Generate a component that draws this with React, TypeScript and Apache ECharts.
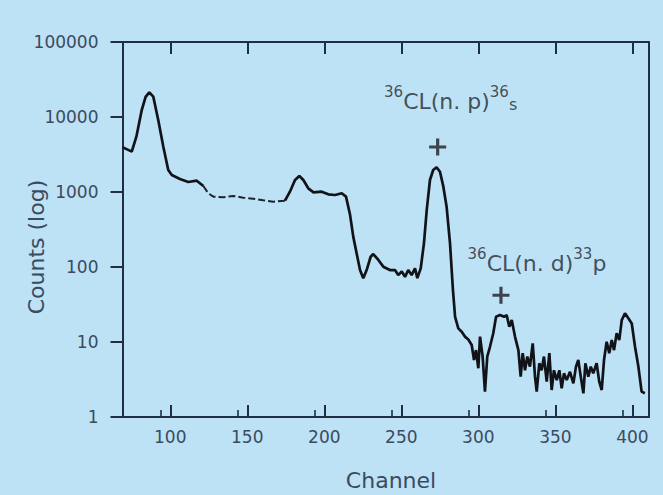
import React, { useEffect, useRef } from "react";
import * as echarts from "echarts";

// Pulse-height spectrum: channel number vs counts (log scale)
const channels = [
  69, 72, 75, 78, 81.5, 84, 86.4, 89, 92.2, 95.5, 98.7, 101, 106.3, 111.7, 117.2,
  121.5, 124.7, 128, 134.4, 140.9, 147.4, 153.9, 160.4, 166.9, 174.5,
  177.7, 181, 183.8, 186.4, 189.6, 193, 198.3, 202.6, 207, 211.3, 214.1,
  216.7, 218.8, 221, 223.2, 225.3, 227.5, 230.1, 231.8, 235.1, 238.3, 242.6,
  245.9, 248, 250.3, 252.4, 254.5, 256.7, 258.9, 260.4, 262.6, 264.7, 266.5,
  268.6, 270.7, 272.9, 275.1, 277.3, 279.4, 281.6, 283.5, 284.9, 287, 289.2,
  291.3, 293.5, 295.7, 297.2, 298.5, 300, 301.1, 302.8, 304.3, 305.8, 307.6,
  309.7, 311.5, 314.1, 316.7, 318.4, 320.1, 321.7, 323.8, 326, 327.5, 328.8,
  330.3, 331.8, 333.5, 335.3, 336.8, 337.9, 339.6, 341.1, 342.6, 344.4, 346.1,
  347.6, 349.1, 350.9, 352.6, 354.1, 355.6, 357.4, 359.5, 361.7, 363.4, 364.9,
  366.5, 368.2, 369.5, 371.4, 373, 374.6, 376.8, 378.5, 380.1, 381.6, 383.3,
  385, 386.6, 388.1, 389.8, 391.5, 393.1, 395.2, 397.4, 399.6, 401.7, 403.9,
  406, 408.1,
];

const counts = [
  3950, 3700, 3450, 5460, 12400, 18500, 21350, 18650, 9120, 4020, 1965, 1685, 1490, 1360, 1415,
  1200, 960, 867, 850, 885, 840, 815, 775, 743, 766,
  1010, 1445, 1635, 1445, 1120, 990, 1010, 930, 912, 962, 867,
  500, 254, 152, 91, 71, 91, 137, 149, 124, 101, 91,
  91, 78, 87, 74, 91, 78, 96, 71, 96, 207, 575,
  1445, 1965, 2135, 1865, 1178, 637, 210, 50, 21.7, 15.2, 13.7,
  11.8, 10.8, 9.1, 5.75, 7.8, 4.46, 11.8, 6.4, 2.18, 6.4, 8.7,
  13.1, 21.7, 22.9, 21.7, 22.9, 16, 19.6, 11.8, 7.8, 3.45, 7.1,
  4.2, 6.4, 4.7, 9.6, 3.45, 2.18, 5.2, 4.2, 6.4, 2.96, 7.1,
  2.29, 4.2, 3.11, 4.2, 2.41, 3.82, 3.11, 4.0, 2.81, 4.7, 5.75,
  3.45, 2.07, 5.2, 3.45, 4.7, 3.82, 5.2, 2.96, 2.29, 5.75, 10.1,
  7.1, 10.6, 7.8, 13.1, 10.6, 19.6, 24.1, 20.7, 17.7, 8.7, 4.7,
  2.18, 2.07,
];

// faintly printed stretch of the spectrum (drawn broken)
const faintFrom = 121.5;
const faintTo = 174.5;

// reaction peaks
const peakChannels = [273.6, 314.7];
const peakMarks = [3980, 42];
const peakLabels = [
  "{sup|36}{m|CL(n. p)}{sup|36}{sub|s}",
  "{sup|36}{m|CL(n. d)}{sup|33}{m|p}",
];
const peakLabelOffsets = [
  [13, -14],
  [36, 0],
];

const xTicks = [100, 150, 200, 250, 300, 350, 400];
const xMin = 69;
const xMax = 410.8;

const ink = "#1f2e45";
const textInk = "#3a4b5e";
const noteInk = "#23272f";
const FONT = "DejaVu Sans";

export default function App() {
  const ref = useRef<HTMLDivElement>(null);

  useEffect(() => {
    if (!ref.current) return;
    const chart = echarts.init(ref.current, null, { renderer: "svg" });

    const pairs = channels.map((c, i) => [c, counts[i]]);
    const solid = pairs.map((p) =>
      p[0] > faintFrom && p[0] < faintTo ? [p[0], "-"] : p
    );
    const faint = pairs.filter((p) => p[0] >= faintFrom && p[0] <= faintTo);

    const plus =
      "path://M6.5,0h3v6.5h6.5v3h-6.5v6.5h-3v-6.5h-6.5v-3h6.5z";

    chart.setOption({
      animation: false,
      backgroundColor: "#bde1f5",
      grid: { left: 122.5, right: 14, top: 42, bottom: 78 },
      xAxis: [
        {
          type: "value",
          min: xMin,
          max: xMax,
          interval: 50,
          position: "bottom",
          axisLine: { show: true, onZero: false, lineStyle: { color: ink, width: 2 } },
          axisTick: {
            show: true,
            inside: true,
            length: 12,
            customValues: xTicks,
            lineStyle: { color: ink, width: 2 },
          },
          minorTick: { show: true, splitNumber: 2, length: 7, lineStyle: { color: ink, width: 1.6 } },
          axisLabel: {
            customValues: xTicks,
            margin: 11,
            fontFamily: FONT,
            fontSize: 17,
            color: textInk,
          },
          splitLine: { show: false },
        },
        {
          type: "value",
          min: xMin,
          max: xMax,
          position: "top",
          axisLine: { show: true, onZero: false, lineStyle: { color: ink, width: 2 } },
          axisTick: {
            show: true,
            inside: true,
            length: 12,
            customValues: xTicks,
            lineStyle: { color: ink, width: 2 },
          },
          axisLabel: { show: false },
          splitLine: { show: false },
        },
      ],
      yAxis: [
        {
          type: "log",
          logBase: 10,
          min: 1,
          max: 100000,
          axisLine: { show: true, onZero: false, lineStyle: { color: ink, width: 2 } },
          axisTick: { show: true, inside: false, length: 12, lineStyle: { color: ink, width: 2 } },
          axisLabel: {
            margin: 24,
            fontFamily: FONT,
            fontSize: 17,
            color: textInk,
            formatter: (v: number) => String(Math.round(v)),
          },
          splitLine: { show: false },
        },
        {
          type: "log",
          logBase: 10,
          min: 1,
          max: 100000,
          position: "right",
          axisLine: { show: true, onZero: false, lineStyle: { color: ink, width: 2 } },
          axisTick: { show: false },
          axisLabel: { show: false },
          splitLine: { show: false },
        },
      ],
      series: [
        {
          type: "line",
          data: solid,
          symbol: "none",
          connectNulls: false,
          lineStyle: { color: "#121318", width: 2.7 },
          z: 3,
        },
        {
          type: "line",
          data: faint,
          symbol: "none",
          lineStyle: { color: "#20242e", width: 2, type: [7, 3] },
          z: 3,
        },
        {
          type: "scatter",
          symbol: plus,
          symbolSize: 17,
          itemStyle: { color: "#1c1d23" },
          data: peakChannels.map((c, i) => ({
            value: [c, peakMarks[i]],
            label: { offset: peakLabelOffsets[i] },
          })),
          label: {
            show: true,
            position: "top",
            distance: 12,
            formatter: (p: any) => peakLabels[p.dataIndex],
            rich: {
              m: { fontFamily: FONT, fontSize: 22, color: noteInk, lineHeight: 28, verticalAlign: "bottom" },
              sup: { fontFamily: FONT, fontSize: 15, color: noteInk, lineHeight: 18, verticalAlign: "top" },
              sub: { fontFamily: FONT, fontSize: 16, color: noteInk, lineHeight: 14, verticalAlign: "bottom" },
            },
          },
          z: 4,
        },
      ],
      graphic: [
        {
          type: "text",
          x: 391,
          y: 480,
          style: {
            text: "Channel",
            fontFamily: FONT,
            fontSize: 22,
            fill: textInk,
            align: "center",
            verticalAlign: "middle",
          },
        },
        {
          type: "text",
          x: 36,
          y: 247,
          rotation: Math.PI / 2,
          style: {
            text: "Counts (log)",
            fontFamily: FONT,
            fontSize: 22,
            fill: textInk,
            align: "center",
            verticalAlign: "middle",
          },
        },
      ],
    });

    return () => chart.dispose();
  }, []);

  return (
    <div
      ref={ref}
      style={{ position: "fixed", left: 0, top: 0, width: 663, height: 495 }}
    />
  );
}
